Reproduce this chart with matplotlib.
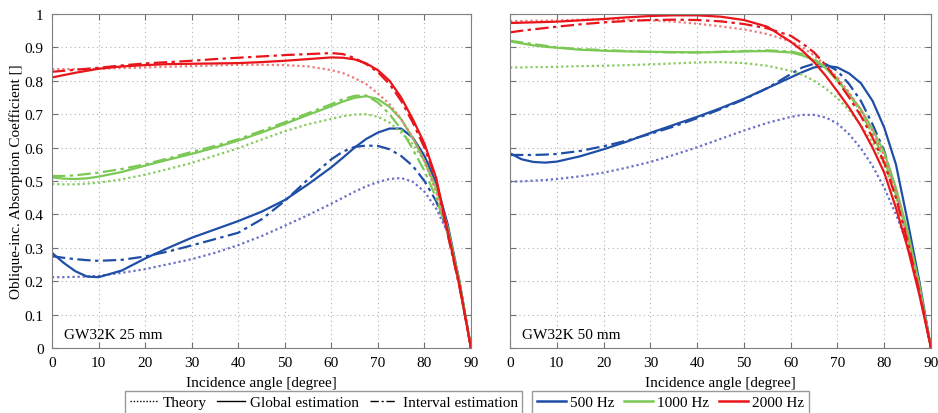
import numpy as np
import matplotlib
matplotlib.use("Agg")
import matplotlib.pyplot as plt
from matplotlib.lines import Line2D

plt.rcParams['font.family'] = ['Liberation Serif', 'DejaVu Serif']
plt.rcParams['font.size'] = 11

# incidence angles [degree]
angles = [0, 2.5, 5, 7.5, 10, 15, 20, 25, 30, 35, 40, 45, 50, 55, 60,
          62.5, 65, 67.5, 70, 72.5, 75, 77.5, 80, 82.5, 85, 87.5, 90]

# GW32K 25 mm
th25_500 = [0.212, 0.212, 0.213, 0.214, 0.216, 0.225, 0.236, 0.251, 0.266, 0.285, 0.308, 0.335, 0.366, 0.398, 0.432,
            0.450, 0.468, 0.484, 0.497, 0.506, 0.509, 0.498, 0.468, 0.418, 0.345, 0.19, 0.0]
gl25_500 = [0.285, 0.255, 0.230, 0.214, 0.212, 0.232, 0.268, 0.300, 0.330, 0.355, 0.380, 0.408, 0.443, 0.490, 0.541,
            0.570, 0.600, 0.626, 0.645, 0.657, 0.657, 0.630, 0.575, 0.495, 0.37, 0.20, 0.0]
iv25_500 = [0.275, 0.270, 0.266, 0.263, 0.261, 0.264, 0.274, 0.289, 0.307, 0.326, 0.345, 0.385, 0.440, 0.505, 0.565,
            0.588, 0.602, 0.606, 0.605, 0.595, 0.575, 0.545, 0.500, 0.440, 0.35, 0.20, 0.0]
th25_1000 = [0.491, 0.490, 0.490, 0.492, 0.495, 0.505, 0.519, 0.536, 0.554, 0.576, 0.598, 0.624, 0.649, 0.670, 0.686,
             0.694, 0.699, 0.700, 0.692, 0.675, 0.645, 0.610, 0.560, 0.470, 0.345, 0.19, 0.0]
gl25_1000 = [0.511, 0.507, 0.506, 0.508, 0.513, 0.527, 0.546, 0.564, 0.581, 0.600, 0.621, 0.645, 0.671, 0.698, 0.724,
             0.738, 0.749, 0.754, 0.745, 0.722, 0.685, 0.628, 0.560, 0.480, 0.36, 0.20, 0.0]
iv25_1000 = [0.515, 0.515, 0.517, 0.521, 0.525, 0.536, 0.550, 0.568, 0.587, 0.605, 0.625, 0.650, 0.676, 0.703, 0.730,
             0.745, 0.755, 0.756, 0.735, 0.700, 0.655, 0.595, 0.530, 0.450, 0.345, 0.19, 0.0]
th25_2000 = [0.835, 0.835, 0.835, 0.835, 0.836, 0.838, 0.840, 0.842, 0.844, 0.846, 0.848, 0.848, 0.847, 0.843, 0.832,
             0.823, 0.808, 0.790, 0.762, 0.730, 0.685, 0.630, 0.560, 0.470, 0.34, 0.185, 0.0]
gl25_2000 = [0.810, 0.817, 0.824, 0.830, 0.836, 0.843, 0.847, 0.850, 0.851, 0.852, 0.853, 0.856, 0.860, 0.865, 0.870,
             0.869, 0.864, 0.852, 0.832, 0.800, 0.750, 0.685, 0.612, 0.510, 0.35, 0.19, 0.0]
iv25_2000 = [0.827, 0.830, 0.833, 0.836, 0.839, 0.846, 0.852, 0.856, 0.860, 0.865, 0.869, 0.873, 0.877, 0.880, 0.883,
             0.880, 0.868, 0.850, 0.826, 0.790, 0.740, 0.675, 0.600, 0.505, 0.34, 0.185, 0.0]

# GW32K 50 mm
th50_500 = [0.498, 0.499, 0.501, 0.503, 0.506, 0.514, 0.525, 0.540, 0.557, 0.578, 0.601, 0.626, 0.651, 0.674, 0.692,
            0.698, 0.698, 0.690, 0.672, 0.640, 0.598, 0.545, 0.480, 0.400, 0.31, 0.17, 0.0]
gl50_500 = [0.583, 0.565, 0.557, 0.555, 0.558, 0.574, 0.595, 0.618, 0.644, 0.668, 0.692, 0.718, 0.746, 0.778, 0.810,
            0.826, 0.840, 0.845, 0.840, 0.822, 0.793, 0.740, 0.660, 0.550, 0.38, 0.20, 0.0]
iv50_500 = [0.578, 0.578, 0.578, 0.579, 0.581, 0.590, 0.604, 0.621, 0.641, 0.663, 0.688, 0.715, 0.744, 0.778, 0.820,
            0.840, 0.851, 0.850, 0.830, 0.790, 0.740, 0.670, 0.590, 0.470, 0.34, 0.18, 0.0]
th50_1000 = [0.840, 0.840, 0.841, 0.841, 0.842, 0.844, 0.845, 0.847, 0.849, 0.852, 0.855, 0.856, 0.853, 0.845, 0.830,
             0.818, 0.800, 0.777, 0.748, 0.712, 0.668, 0.615, 0.550, 0.450, 0.32, 0.17, 0.0]
gl50_1000 = [0.918, 0.912, 0.906, 0.902, 0.899, 0.893, 0.890, 0.888, 0.887, 0.886, 0.885, 0.886, 0.888, 0.889, 0.885,
             0.876, 0.862, 0.838, 0.800, 0.760, 0.715, 0.655, 0.585, 0.480, 0.35, 0.19, 0.0]
iv50_1000 = [0.920, 0.915, 0.910, 0.905, 0.900, 0.895, 0.892, 0.889, 0.886, 0.885, 0.885, 0.887, 0.889, 0.891, 0.888,
             0.880, 0.865, 0.840, 0.805, 0.760, 0.705, 0.640, 0.565, 0.460, 0.335, 0.18, 0.0]
th50_2000 = [0.979, 0.979, 0.980, 0.980, 0.981, 0.983, 0.984, 0.983, 0.981, 0.977, 0.971, 0.963, 0.954, 0.940, 0.918,
             0.900, 0.876, 0.845, 0.810, 0.765, 0.712, 0.650, 0.575, 0.470, 0.33, 0.175, 0.0]
gl50_2000 = [0.973, 0.974, 0.975, 0.976, 0.977, 0.981, 0.985, 0.990, 0.994, 0.996, 0.996, 0.992, 0.982, 0.962, 0.917,
             0.890, 0.856, 0.815, 0.768, 0.720, 0.665, 0.600, 0.525, 0.420, 0.30, 0.16, 0.0]
iv50_2000 = [0.945, 0.950, 0.954, 0.958, 0.962, 0.969, 0.975, 0.979, 0.982, 0.983, 0.982, 0.978, 0.970, 0.957, 0.935,
             0.912, 0.885, 0.847, 0.800, 0.750, 0.695, 0.630, 0.555, 0.450, 0.32, 0.17, 0.0]

freqs = ["500 Hz", "1000 Hz", "2000 Hz"]
colors = ["#1f4ea6", "#7cc855", "#e8151b"]
theory_colors = ["#6a6fc8", "#86cc5e", "#f07a7a"]

panels = [
    ("GW32K 25 mm", [th25_500, th25_1000, th25_2000], [gl25_500, gl25_1000, gl25_2000], [iv25_500, iv25_1000, iv25_2000]),
    ("GW32K 50 mm", [th50_500, th50_1000, th50_2000], [gl50_500, gl50_1000, gl50_2000], [iv50_500, iv50_1000, iv50_2000]),
]

fig = plt.figure(figsize=(9.38, 4.14), dpi=100)
ax1 = fig.add_axes([52 / 938, 65 / 414, 419 / 938, 334 / 414])
ax2 = fig.add_axes([510 / 938, 65 / 414, 421 / 938, 334 / 414])

for ax, (label, th, gl, iv) in zip([ax1, ax2], panels):
    for i in range(3):
        ax.plot(angles, th[i], linestyle=(0, (1, 1.3)), color=theory_colors[i], lw=1.6)
        ax.plot(angles, iv[i], linestyle=(0, (6, 2, 1.5, 2)), color=colors[i], lw=1.6)
        ax.plot(angles, gl[i], linestyle='-', color=colors[i], lw=1.6)
    ax.set_xlim(0, 90)
    ax.set_ylim(0, 1)
    ax.set_xticks(np.arange(0, 91, 10))
    ax.set_yticks(np.arange(0, 1.01, 0.1))
    ax.set_yticklabels(["0", "0.1", "0.2", "0.3", "0.4", "0.5", "0.6", "0.7", "0.8", "0.9", "1"])
    ax.grid(True, linestyle=(0, (1, 3)), color="#b0b0b0", lw=0.8)
    ax.tick_params(direction='in', top=True, right=True, length=4, color="#707070", labelsize=11, pad=6)
    for s in ax.spines.values():
        s.set_color("#808080")
    ax.set_xlabel("Incidence angle [degree]", fontsize=11, labelpad=5)
    ax.text(2.5, 0.03, label, fontsize=11)

ax1.set_ylabel("Oblique-inc. Absorption Coefficient []", fontsize=11, labelpad=1)
ax2.set_yticklabels([])

style_handles = [
    Line2D([], [], color='k', linestyle=(0, (1, 1.3)), lw=1),
    Line2D([], [], color='k', linestyle='-', lw=1),
    Line2D([], [], color='k', linestyle=(0, (6, 2, 1.5, 2)), lw=1),
]
leg1 = fig.legend(style_handles, ["Theory", "Global estimation", "Interval estimation"],
                  loc='upper left', bbox_to_anchor=(125 / 938, 22 / 414), ncol=3, borderaxespad=0,
                  fancybox=False, edgecolor="#808080", fontsize=11, handlelength=1.8,
                  columnspacing=0.7, handletextpad=0.35, borderpad=0.3)
freq_handles = [Line2D([], [], color=c, lw=1.8) for c in colors]
leg2 = fig.legend(freq_handles, freqs, loc='upper left', bbox_to_anchor=(532 / 938, 22 / 414), ncol=3,
                  borderaxespad=0, fancybox=False, edgecolor="#808080", fontsize=11, handlelength=1.9,
                  columnspacing=0.6, handletextpad=0.3, borderpad=0.3)

fig.savefig("out.png", dpi=100)
